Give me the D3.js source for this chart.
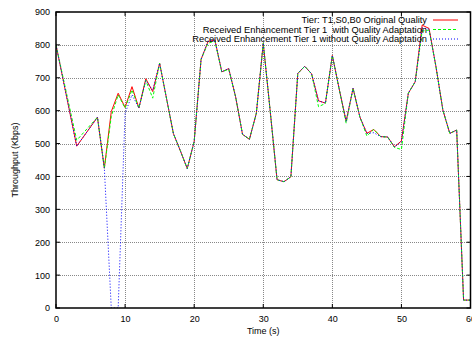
<!DOCTYPE html>
<html><head><meta charset="utf-8">
<script src="https://cdn.jsdelivr.net/npm/d3@7"></script>
<style>
html,body{margin:0;padding:0;background:#fff;}
svg{display:block;font-family:"Liberation Sans",Arial,Helvetica,sans-serif;}
</style></head><body>
<svg id="chart" width="472" height="340"></svg>
<script>
const timeRed   = [0,3,6,7,8,9,10,11,12,13,14,15,17,18,19,20,21,22,23,24,25,26,27,28,29,30,31,32,33,34,35,36,37,38,39,40,41,42,43,44,45,46,47,48,49,50,51,52,53,54,55,56,57,58,59,60];
const original  = [800,492,580,425,597,653,610,673,608,697,658,744,530,478,424,506,756,810,815,718,728,642,528,513,592,805,600,390,384,399,713,735,712,630,623,768,665,568,668,580,531,543,521,520,490,508,653,688,860,850,734,602,531,541,24,24];
const withAdapt = [800,510,580,425,582,648,608,663,608,692,638,744,530,478,424,506,756,805,812,718,726,642,528,513,592,805,600,390,384,399,713,735,712,612,622,768,665,562,668,580,523,543,521,520,488,482,653,688,842,845,734,602,531,541,24,24];
const withoutAdapt = [800,492,580,425,0,0,592,648,608,692,662,744,530,478,424,506,756,810,815,718,728,642,528,513,592,805,600,390,384,399,713,735,712,630,623,768,665,568,668,580,531,533,521,520,490,506,653,688,852,848,734,602,531,541,24,24];
const seriesNames = ["Tier: T1,S0,B0 Original Quality","Received Enhancement Tier 1  with Quality Adaptation","Received Enhancement Tier 1 without Quality Adaptation"];
const xTicks = [0,10,20,30,40,50,60];
const yTicks = [0,100,200,300,400,500,600,700,800,900];
const xLabel = "Time (s)";
const yLabel = "Throughput (Kbps)";

const svg = d3.select("#chart");
const L=56, R=470.5, T=12, B=308;
const x = d3.scaleLinear().domain([0,60]).range([L,R]);
const y = d3.scaleLinear().domain([0,900]).range([B,T]);

// grid
const grid = svg.append("g");
yTicks.filter(v=>v>0&&v<900).forEach(v=>{
  grid.append("line").attr("x1",L).attr("x2",R).attr("y1",Math.round(y(v))+0.5).attr("y2",Math.round(y(v))+0.5)
    .attr("stroke","#888").attr("stroke-width",1).attr("stroke-dasharray","1,1");
});
xTicks.filter(v=>v>0&&v<60).forEach(v=>{
  grid.append("line").attr("y1",T).attr("y2",B).attr("x1",Math.round(x(v))+0.5).attr("x2",Math.round(x(v))+0.5)
    .attr("stroke","#888").attr("stroke-width",1).attr("stroke-dasharray","1,1");
});

// axes
const fs = 9;
const ax = svg.append("g").attr("transform",`translate(0,${B})`)
  .call(d3.axisBottom(x).tickValues(xTicks).tickSize(0).tickPadding(8));
const ay = svg.append("g").attr("transform",`translate(${L},0)`)
  .call(d3.axisLeft(y).tickValues(yTicks).tickSize(0).tickPadding(6));
[ax,ay].forEach(g=>{
  g.select(".domain").remove();
  g.selectAll("text").attr("font-size",fs).attr("fill","#000").attr("font-family","Liberation Sans, Arial, sans-serif");
});

// data lines, clipped
svg.append("clipPath").attr("id","clip").append("rect").attr("x",L).attr("y",T).attr("width",R-L).attr("height",B-T);
const plot = svg.append("g").attr("clip-path","url(#clip)");
const styles = [
  {data:original, color:"#ff0000", dash:null},
  {data:withAdapt, color:"#00ff00", dash:"3,2"},
  {data:withoutAdapt, color:"#0000ff", dash:"1,2"}
];
const line = d3.line().x(d=>x(d[0])).y(d=>y(d[1]));
styles.forEach(s=>{
  plot.append("path").datum(timeRed.map((t,i)=>[t,s.data[i]]))
    .attr("d",line).attr("fill","none").attr("stroke",s.color).attr("stroke-width",1)
    .attr("stroke-dasharray",s.dash);
});

// border and inward ticks
svg.append("rect").attr("x",L).attr("y",T).attr("width",R-L).attr("height",B-T)
  .attr("fill","none").attr("stroke","#000").attr("stroke-width",1.5);
const tk = svg.append("g").attr("stroke","#000").attr("stroke-width",1);
xTicks.forEach(v=>{
  tk.append("line").attr("x1",x(v)).attr("x2",x(v)).attr("y1",B).attr("y2",B-4);
  tk.append("line").attr("x1",x(v)).attr("x2",x(v)).attr("y1",T).attr("y2",T+4);
});
yTicks.forEach(v=>{
  tk.append("line").attr("x1",L).attr("x2",L+4).attr("y1",y(v)).attr("y2",y(v));
  tk.append("line").attr("x1",R).attr("x2",R-4).attr("y1",y(v)).attr("y2",y(v));
});

// axis titles
svg.append("text").attr("x",(L+R)/2).attr("y",334).attr("text-anchor","middle").attr("font-size",fs).text(xLabel);
svg.append("text").attr("transform","translate(18,160) rotate(-90)").attr("text-anchor","middle").attr("font-size",fs).text(yLabel);

// legend
const lg = svg.append("g");
styles.forEach((s,i)=>{
  const ly = 20 + i*9.5;
  lg.append("text").attr("x",427).attr("y",ly+3.3).attr("text-anchor","end").attr("font-size",9.3)
    .style("white-space","pre").attr("xml:space","preserve").text(seriesNames[i]);
  lg.append("line").attr("x1",433).attr("x2",458).attr("y1",ly).attr("y2",ly)
    .attr("stroke",s.color).attr("stroke-width",1).attr("stroke-dasharray",s.dash);
});
</script>
</body></html>
